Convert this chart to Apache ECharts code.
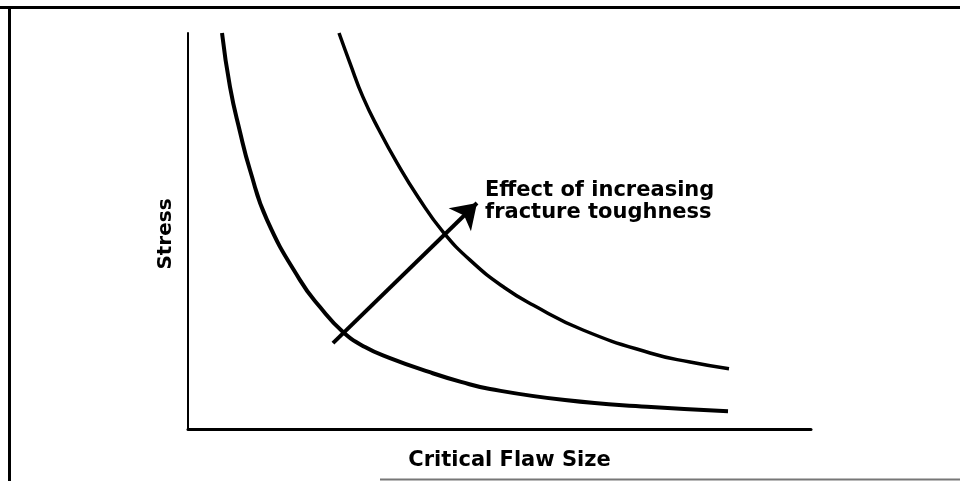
<!DOCTYPE html>
<html>
<head>
<meta charset="utf-8">
<script src="https://cdn.jsdelivr.net/npm/echarts@6/dist/echarts.min.js"></script>
<style>
html,body{margin:0;padding:0;background:#fff;}
#chart{width:960px;height:481px;}
</style>
</head>
<body>
<div id="chart"></div>
<script>
// Lower curve (lower fracture toughness): [critical flaw size, stress] in relative units 0-100
const lowerCurve = [
  [5.46, 100], [6.74, 86.4], [8.35, 75.0], [9.95, 65.4], [12.68, 52.8],
  [17.98, 37.6], [21.19, 30.8], [24.88, 24.5], [28.41, 20.7], [32.42, 17.9],
  [38.68, 14.4], [43.82, 11.9], [48.48, 10.1], [60.51, 7.3], [73.68, 5.6], [86.68, 4.5]
];
// Upper curve (higher fracture toughness)
const upperCurve = [
  [24.24, 100], [26.0, 92.4], [28.09, 83.8], [30.66, 75.5], [33.55, 67.2],
  [36.92, 58.6], [40.93, 49.8], [45.59, 42.2], [50.88, 35.6], [55.38, 31.3],
  [63.4, 25.0], [74.16, 19.2], [80.58, 16.9], [86.84, 15.2]
];
// Arrow: start and tip (data units)
const arrowStart = [23.27, 21.7];
const arrowEnd = [46.39, 57.07];
const axisNames = { x: 'Critical Flaw Size', y: 'Stress' };
const annotation = ['Effect of increasing', 'fracture toughness'];

const FONT = '"DejaVu Sans", sans-serif';
const chart = echarts.init(document.getElementById('chart'), null, { renderer: 'canvas' });
chart.setOption({
  backgroundColor: '#fff',
  animation: false,
  grid: { left: 188, right: 149, top: 33, bottom: 52 },
  xAxis: {
    type: 'value', min: 0, max: 100,
    name: axisNames.x, nameLocation: 'middle', nameGap: 21,
    nameTextStyle: { fontFamily: FONT, fontWeight: 'bold', fontSize: 21, color: '#000', padding: [0, 0, 0, 20] },
    axisLine: { show: true, lineStyle: { color: '#000', width: 3 } },
    axisTick: { show: false }, axisLabel: { show: false }, splitLine: { show: false }
  },
  yAxis: {
    type: 'value', min: 0, max: 100,
    name: axisNames.y, nameLocation: 'middle', nameGap: 12, nameRotate: 90,
    nameTextStyle: { fontFamily: FONT, fontWeight: 'bold', fontSize: 20, color: '#000', padding: [0, 6, 0, 0] },
    axisLine: { show: true, lineStyle: { color: '#000', width: 2 } },
    axisTick: { show: false }, axisLabel: { show: false }, splitLine: { show: false }
  },
  series: [
    {
      type: 'line', data: lowerCurve, smooth: 0.5, showSymbol: false,
      lineStyle: { color: '#000', width: 4 }
    },
    {
      type: 'line', data: upperCurve, smooth: 0.5, showSymbol: false,
      lineStyle: { color: '#000', width: 3.5 },
      markLine: {
        silent: true,
        symbol: ['none', 'arrow'],
        symbolSize: 24,
        label: { show: false },
        lineStyle: { color: '#000', width: 4, type: 'solid' },
        data: [[{ coord: arrowStart }, { coord: arrowEnd }]]
      }
    }
  ],
  graphic: [
    { type: 'line', shape: { x1: 0, y1: 7.5, x2: 960, y2: 7.5 }, style: { stroke: '#000', lineWidth: 3 } },
    { type: 'line', shape: { x1: 9.5, y1: 6, x2: 9.5, y2: 481 }, style: { stroke: '#000', lineWidth: 3 } },
    { type: 'line', shape: { x1: 380, y1: 479.5, x2: 960, y2: 479.5 }, style: { stroke: '#777', lineWidth: 2 } },
    {
      type: 'text', left: 485, top: 180,
      style: { text: annotation.join('\n'), font: 'bold 21px ' + FONT, fill: '#000', lineHeight: 22 }
    }
  ]
});
</script>
</body>
</html>
